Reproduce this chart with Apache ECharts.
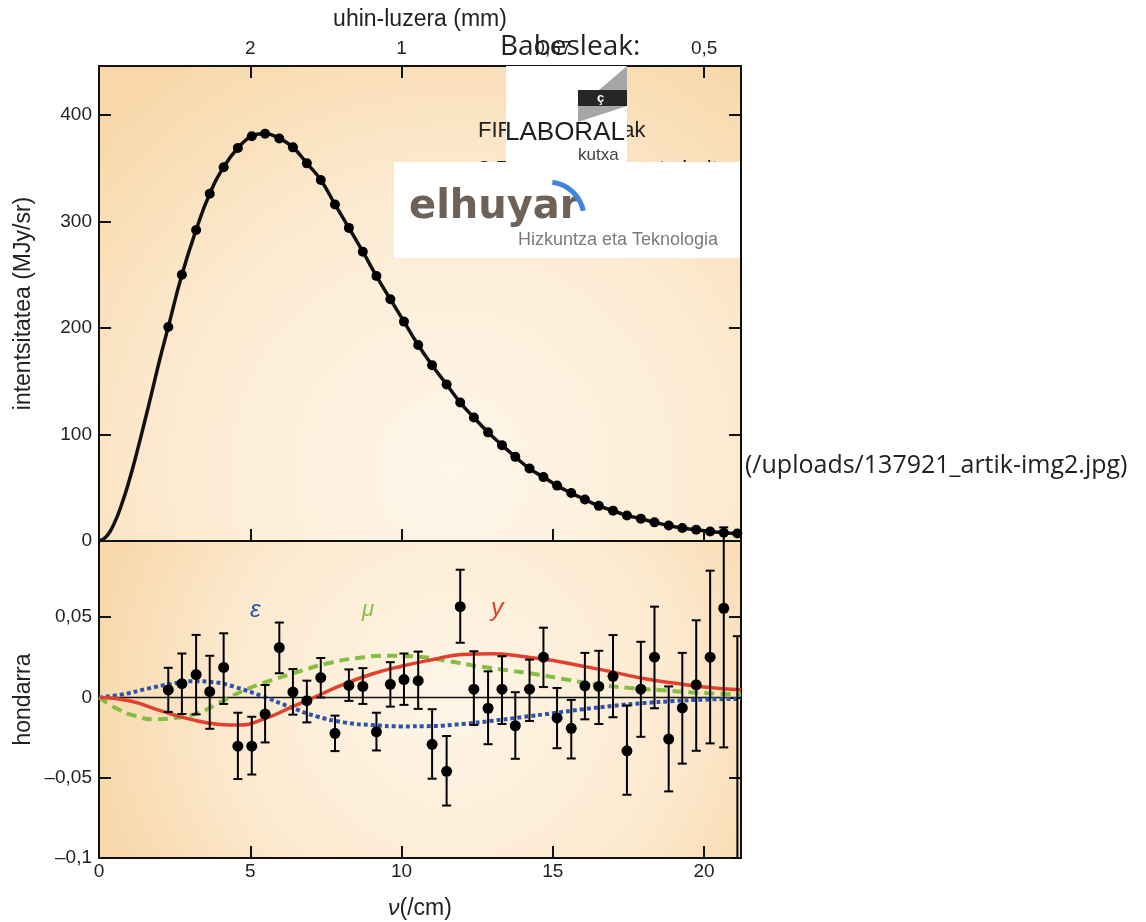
<!DOCTYPE html>
<html>
<head>
<meta charset="utf-8">
<title>FIRAS</title>
<script src="https://cdn.jsdelivr.net/npm/echarts@6/dist/echarts.min.js"></script>
<style>
  html, body { margin: 0; padding: 0; background: #fff; }
  #chart { width: 1146px; height: 922px; }
</style>
</head>
<body>
<div id="chart"></div>
<script>
// frequency (/cm) of every measurement, same for both panels
const nu = [2.29, 2.74, 3.21, 3.66, 4.12, 4.59, 5.05, 5.49, 5.96, 6.41, 6.87, 7.33, 7.80, 8.26,
  8.72, 9.17, 9.63, 10.08, 10.55, 11.01, 11.49, 11.94, 12.39, 12.86, 13.32, 13.76, 14.23, 14.69,
  15.14, 15.61, 16.06, 16.52, 16.99, 17.45, 17.91, 18.36, 18.83, 19.28, 19.74, 20.20, 20.65, 21.10];
// top panel, MJy/sr
const intensity = [201, 250, 292, 326, 351, 369, 380, 382.4, 378, 369.6, 354.6, 339, 316, 294,
  271.6, 248.8, 227, 206, 184, 165, 147, 130, 116, 102, 90, 79, 68, 60, 52, 45, 39, 33, 28.5, 24,
  21, 17.5, 14.5, 12.2, 10.5, 9, 7.8, 7];
// black body curve before the first point and after the last one
const leadNu = [0, 0.25, 0.5, 0.75, 1, 1.25, 1.5, 1.75, 2];
const leadIntensity = [0, 4.4, 16.4, 34.5, 57, 83, 111, 140, 169.5];
const tailNu = [21.22];
const tailIntensity = [6.6];

// bottom panel: residuals and error bar ends (last one has its point off the axis)
const residual = [0.0047, 0.0086, 0.0143, 0.0036, 0.0187, -0.0303, -0.0303, -0.0103, 0.0311, 0.0034,
  -0.002, 0.0124, -0.0223, 0.0075, 0.0069, -0.0214, 0.0082, 0.0112, 0.0105, -0.0292, -0.046, 0.0566,
  0.0052, -0.0067, 0.0052, -0.0176, 0.0052, 0.0251, -0.0127, -0.0192, 0.0073, 0.0069, 0.0132, -0.0332,
  0.0052, 0.0251, -0.0259, -0.0065, 0.0079, 0.0251, 0.0556, null];
const residualHigh = [0.0185, 0.0274, 0.039, 0.026, 0.040, -0.0095, -0.012, 0.0078, 0.0467, 0.0177,
  0.0105, 0.0246, -0.0113, 0.0175, 0.0183, -0.0095, 0.022, 0.0274, 0.0286, -0.0073, -0.024, 0.0796,
  0.0288, 0.0163, 0.0257, 0.0033, 0.0236, 0.0435, 0.0059, -0.0015, 0.0278, 0.0291, 0.0389, -0.005,
  0.0347, 0.0566, 0.0069, 0.0278, 0.0481, 0.079, 0.106, 0.0382];
const residualLow = [-0.009, -0.0103, -0.0105, -0.0195, -0.004, -0.0508, -0.048, -0.028, 0.0151, -0.0107,
  -0.0155, 0.0, -0.0334, -0.0021, -0.004, -0.033, -0.0057, -0.0046, -0.0071, -0.0506, -0.0673, 0.0341,
  -0.0171, -0.0291, -0.0165, -0.0382, -0.0146, 0.0065, -0.0316, -0.038, -0.0136, -0.0165, -0.0123, -0.0606,
  -0.0245, -0.0067, -0.0585, -0.0412, -0.0332, -0.0286, -0.0311, -0.1];

// distortion models
const epsNu = [0, 0.8, 1.6, 2.4, 3.1, 3.8, 4.5, 5.4, 6.3, 7.2, 8.1, 9, 10, 11, 12, 13, 14, 15, 16, 17, 18, 19, 20, 21.22];
const epsVal = [0, 0.002, 0.0055, 0.0085, 0.0101, 0.0095, 0.0065, 0.0008, -0.0058, -0.0118, -0.0155, -0.0172,
  -0.018, -0.0178, -0.0165, -0.0145, -0.0122, -0.0098, -0.0073, -0.0052, -0.0035, -0.0022, -0.0013, -0.0008];
const muNu = [0, 0.6, 1.2, 1.8, 2.5, 3.3, 4.1, 4.8, 5.5, 6.5, 7.5, 8.5, 9.5, 10.5, 11.5, 12.5, 13.5, 14.5,
  15.5, 16.5, 17.5, 18.5, 19.5, 20.5, 21.22];
const muVal = [0, -0.007, -0.0115, -0.0135, -0.0128, -0.0095, -0.002, 0.0045, 0.0095, 0.0155, 0.021, 0.0245,
  0.026, 0.0255, 0.0228, 0.0196, 0.017, 0.0143, 0.011, 0.008, 0.006, 0.0047, 0.0033, 0.0024, 0.002];
const yNu = [0, 1, 2, 3, 4, 4.6, 5.5, 6.4, 7.1, 8, 9, 10, 11, 12, 13, 14, 15, 16, 17, 18, 19, 20, 21.22];
const yVal = [0, -0.002, -0.008, -0.0135, -0.0168, -0.0172, -0.013, -0.0057, 0, 0.0075, 0.0145, 0.0195,
  0.0235, 0.0268, 0.0273, 0.0255, 0.023, 0.0195, 0.0158, 0.0118, 0.009, 0.0066, 0.0048];

// wavelength labels on the top axis
const topTicks = [5, 10, 15, 20];
const topTickLabels = ['2', '1', '0,67', '0,5'];

const NU_MAX = 21.22;
const pairs = (xs, ys) => xs.map((x, i) => [x, ys[i]]);

const ink = '#111';
const txt = '#222';
const sans = '"Liberation Sans", Arial, sans-serif';
const pageFont = '"Open Sans", "Noto Sans", sans-serif';

function baseAxis(extra) {
  return Object.assign({
    type: 'value',
    axisLine: { show: true, onZero: false, lineStyle: { color: ink, width: 2 } },
    axisTick: { show: true, inside: true, length: 12, lineStyle: { color: ink, width: 2 } },
    axisLabel: { show: false },
    splitLine: { show: false },
    nameMoveOverlap: false
  }, extra);
}
const labelStyle = { show: true, color: txt, fontSize: 19, fontFamily: sans };
const nameStyle = { color: txt, fontSize: 23, fontFamily: sans };

const resFmt = v => {
  const k = Math.round(v * 20);
  if (Math.abs(v * 20 - k) > 1e-6) return '';
  if (k === 0) return '0';
  return (k < 0 ? '\u2013' : '') + (Math.abs(k) * 0.05).toFixed(2).replace(/0$/, '').replace('.', ',');
};

const topBg = new echarts.graphic.RadialGradient(0.55, 0.85, 1.05, [
  { offset: 0, color: '#fef6ea' }, { offset: 0.55, color: '#fcebd2' }, { offset: 1, color: '#f8d7a8' }
]);
const botBg = new echarts.graphic.RadialGradient(0.55, 0.5, 1.15, [
  { offset: 0, color: '#fef5e7' }, { offset: 0.6, color: '#fcead0' }, { offset: 1, color: '#f8d8ab' }
]);

const option = {
  animation: false,
  backgroundColor: '#fff',
  grid: [
    { left: 99, top: 66, width: 642, height: 475, show: true, backgroundColor: topBg, borderColor: ink, borderWidth: 2, outerBoundsMode: 'none' },
    { left: 99, top: 541, width: 642, height: 317, show: true, backgroundColor: botBg, borderColor: ink, borderWidth: 2, outerBoundsMode: 'none' }
  ],
  xAxis: [
    baseAxis({ gridIndex: 0, min: 0, max: NU_MAX, interval: 5, position: 'bottom' }),
    baseAxis({
      gridIndex: 0, min: 0, max: NU_MAX, interval: 5, position: 'top',
      axisLabel: Object.assign({}, labelStyle, {
        margin: 8,
        formatter: v => {
          const i = topTicks.indexOf(Math.round(v * 1000) / 1000);
          return i >= 0 ? topTickLabels[i] : '';
        }
      }),
      name: 'uhin-luzera (mm)', nameLocation: 'middle', nameGap: 35, nameTextStyle: nameStyle
    }),
    baseAxis({
      gridIndex: 1, min: 0, max: NU_MAX, interval: 5, position: 'bottom',
      axisLabel: Object.assign({}, labelStyle, { margin: 4, formatter: v => (v % 5 === 0 ? String(v) : '') }),
      name: '{i|\u03bd}(/cm)', nameLocation: 'middle', nameGap: 39,
      nameTextStyle: Object.assign({}, nameStyle, { rich: { i: { fontStyle: 'italic', fontSize: 23, fontFamily: sans, color: txt } } })
    })
  ],
  yAxis: [
    baseAxis({
      gridIndex: 0, min: 0, max: 446, interval: 100, position: 'left',
      axisLabel: Object.assign({}, labelStyle, { margin: 7, formatter: v => (v % 100 === 0 ? String(v) : '') }),
      name: 'intentsitatea (MJy/sr)', nameLocation: 'middle', nameGap: 64, nameRotate: 90, nameTextStyle: nameStyle
    }),
    baseAxis({ gridIndex: 0, min: 0, max: 446, interval: 100, position: 'right' }),
    baseAxis({
      gridIndex: 1, min: -0.1, max: 0.0975, interval: 0.05, position: 'left',
      axisLabel: Object.assign({}, labelStyle, { margin: 7, formatter: resFmt }),
      name: 'hondarra', nameLocation: 'middle', nameGap: 64, nameRotate: 90, nameTextStyle: nameStyle
    }),
    baseAxis({ gridIndex: 1, min: -0.1, max: 0.0975, interval: 0.05, position: 'right' })
  ],
  series: [
    {
      name: 'black body', type: 'line', xAxisIndex: 0, yAxisIndex: 0,
      data: pairs(leadNu.concat(nu, tailNu), leadIntensity.concat(intensity, tailIntensity)),
      smooth: true, showSymbol: false, lineStyle: { color: ink, width: 3.5 }, z: 3
    },
    {
      name: 'FIRAS', type: 'scatter', xAxisIndex: 0, yAxisIndex: 0,
      data: pairs(nu, intensity), symbolSize: 10, itemStyle: { color: '#000', opacity: 1 }, z: 4
    },
    {
      name: 'zero', type: 'line', xAxisIndex: 2, yAxisIndex: 2,
      data: [[0, 0], [NU_MAX, 0]], showSymbol: false, lineStyle: { color: ink, width: 1.5 }, z: 2
    },
    {
      name: 'epsilon', type: 'line', xAxisIndex: 2, yAxisIndex: 2, data: pairs(epsNu, epsVal),
      smooth: true, showSymbol: false, lineStyle: { color: '#2d54a8', width: 4, type: [4, 3] }, z: 3
    },
    {
      name: 'mu', type: 'line', xAxisIndex: 2, yAxisIndex: 2, data: pairs(muNu, muVal),
      smooth: true, showSymbol: false, lineStyle: { color: '#86bd45', width: 4, type: [10, 6] }, z: 3
    },
    {
      name: 'y', type: 'line', xAxisIndex: 2, yAxisIndex: 2, data: pairs(yNu, yVal),
      smooth: true, showSymbol: false, lineStyle: { color: '#e2402f', width: 3.5 }, z: 3
    },
    {
      name: 'errors', type: 'custom', xAxisIndex: 2, yAxisIndex: 2, clip: false, z: 5,
      data: nu.map((x, i) => [x, residualLow[i], residualHigh[i]]),
      renderItem: function (params, api) {
        const x = api.value(0);
        const hi = api.coord([x, api.value(2)]);
        const lo = api.coord([x, api.value(1)]);
        const hw = 4.5;
        const st = { stroke: '#000', lineWidth: 2 };
        return {
          type: 'group',
          children: [
            { type: 'line', shape: { x1: hi[0], y1: hi[1], x2: lo[0], y2: lo[1] }, style: st },
            { type: 'line', shape: { x1: hi[0] - hw, y1: hi[1], x2: hi[0] + hw, y2: hi[1] }, style: st },
            { type: 'line', shape: { x1: lo[0] - hw, y1: lo[1], x2: lo[0] + hw, y2: lo[1] }, style: st }
          ]
        };
      }
    },
    {
      name: 'residual', type: 'scatter', xAxisIndex: 2, yAxisIndex: 2, z: 6,
      data: pairs(nu, residual).filter(p => p[1] !== null),
      symbolSize: 11, itemStyle: { color: '#000', opacity: 1 }
    }
  ],
  graphic: {
    elements: [
      // curve labels
      { type: 'text', left: 250, top: 598, z: 20, style: { text: '\u03b5', font: 'italic 24px ' + sans, fill: '#2d54a8' } },
      { type: 'text', left: 362, top: 599, z: 20, style: { text: '\u03bc', font: 'italic 22px ' + sans, fill: '#86bd45' } },
      { type: 'text', left: 491, top: 597, z: 20, style: { text: 'y', font: 'italic 25px ' + sans, fill: '#e2402f' } },
      // legend text, mostly hidden behind the logos
      { type: 'text', x: 478, y: 131, z: 30, style: { text: 'FIRAS neurketak', font: '22px ' + sans, fill: txt, verticalAlign: 'middle' } },
      { type: 'text', x: 478, y: 170, z: 30, style: { text: '2,725 K-eko gorputz beltza', font: '22px ' + sans, fill: txt, verticalAlign: 'middle' } },
      // Laboral Kutxa logo
      { type: 'rect', z: 40, shape: { x: 506, y: 66, width: 121, height: 96 }, style: { fill: '#fff' } },
      { type: 'polygon', z: 41, shape: { points: [[627, 66], [627, 90], [599, 90]] }, style: { fill: '#a6a6a6' } },
      { type: 'polygon', z: 41, shape: { points: [[578, 106], [627, 106], [578, 122]] }, style: { fill: '#a6a6a6' } },
      { type: 'rect', z: 41, shape: { x: 578, y: 90, width: 49, height: 16 }, style: { fill: '#262626' } },
      { type: 'text', z: 42, x: 597, y: 98, style: { text: '\u00e7', font: 'bold 13px ' + sans, fill: '#fff', verticalAlign: 'middle' } },
      { type: 'text', z: 42, x: 505, y: 133, style: { text: 'LABORAL', font: '26px ' + sans, fill: '#1e1e1e', verticalAlign: 'middle' } },
      { type: 'text', z: 42, x: 578, y: 155, style: { text: 'kutxa', font: '17px ' + sans, fill: '#444', verticalAlign: 'middle' } },
      // Elhuyar logo
      { type: 'rect', z: 50, shape: { x: 394, y: 162, width: 346, height: 96 }, style: { fill: '#fff' } },
      { type: 'text', z: 51, x: 409, y: 208, style: { text: 'elhuyar', font: 'bold 40px "DejaVu Sans", sans-serif', fill: '#6e6158', verticalAlign: 'middle' } },
      { type: 'arc', z: 51, shape: { cx: 548, cy: 218, r: 36, startAngle: -1.45, endAngle: -0.2 }, style: { stroke: '#3f86d9', lineWidth: 5, fill: null } },
      { type: 'text', z: 51, x: 518, y: 240, style: { text: 'Hizkuntza eta Teknologia', font: '18px ' + sans, fill: '#7b7b7b', verticalAlign: 'middle' } },
      // page texts around the picture
      { type: 'text', z: 60, x: 500, y: 47, style: { text: 'Babesleak:', font: '28px ' + pageFont, fill: txt, verticalAlign: 'middle' } },
      { type: 'text', z: 60, x: 745, y: 466, style: { text: '(/uploads/137921_artik-img2.jpg)', font: '25px ' + pageFont, fill: txt, verticalAlign: 'middle' } }
    ]
  }
};

const chart = echarts.init(document.getElementById('chart'));
chart.setOption(option);
</script>
</body>
</html>
